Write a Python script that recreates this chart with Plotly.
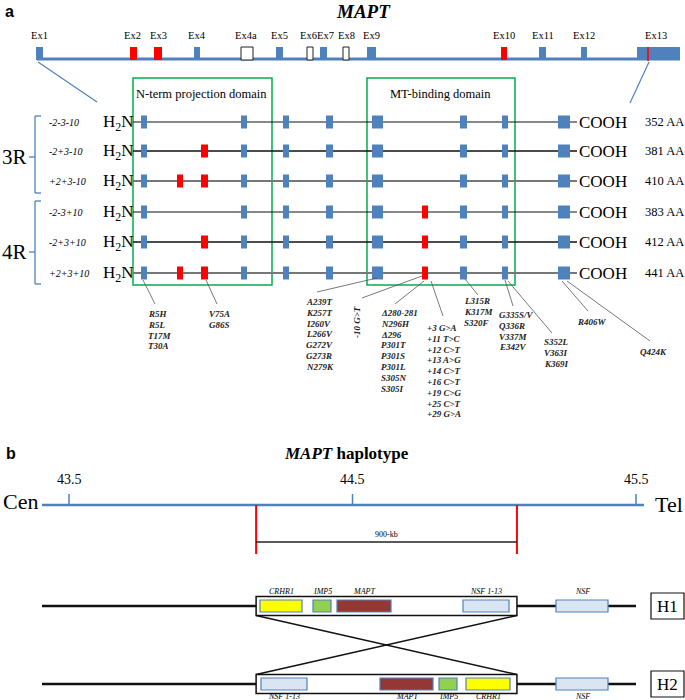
import plotly.graph_objects as go

SERIF = "Liberation Serif"
SANS = "Liberation Sans"
BLUE = "#4f81bd"
RED = "#ff0000"
GREEN = "#00b050"

# ---- panel a: MAPT gene, exons ----
exon_names = ["Ex1", "Ex2", "Ex3", "Ex4", "Ex4a", "Ex5", "Ex6", "Ex7", "Ex8", "Ex9",
              "Ex10", "Ex11", "Ex12", "Ex13"]
exon_type = ["const", "alt", "alt", "const", "open", "const", "open", "const", "open",
             "const", "alt", "const", "const", "const"]
exon_start = [36, 130, 154, 194, 241, 276, 307, 320, 343, 367, 501, 539, 581, 637]
exon_end = [43, 137, 162, 200, 253, 283, 313, 327, 349, 376, 507, 546, 587, 680]
exon_label_x = [39, 132, 158, 197, 246, 279, 308, 325, 346, 371, 504, 543, 584, 656]

# ---- tau isoforms ----
isoform_names = ["-2-3-10", "-2+3-10", "+2+3-10", "-2-3+10", "-2+3+10", "+2+3+10"]
isoform_len = ["352 AA", "381 AA", "410 AA", "383 AA", "412 AA", "441 AA"]
has_ex2 = [False, False, True, False, False, True]
has_ex3 = [False, True, True, False, True, True]
has_ex10 = [False, False, False, True, True, True]
isoform_y = [122, 151, 181, 212, 242, 273]
isoform_line = ["#111111", "#111111", "#777777", "#111111", "#111111", "#777777"]
isoform_width = [1.2, 1.6, 2.2, 1.0, 1.6, 2.2]

block_start = [141, 241, 283, 326, 372, 460, 502, 558]
block_end = [147, 247, 289, 333, 383, 467, 508, 570]
ex2_block = (177, 183)
ex3_block = (201, 208)
ex10_block = (422, 428)

# ---- mutations ----
mut_labels = [
    ["R5H", "R5L", "T17M", "T30A"],
    ["V75A", "G86S"],
    ["A239T", "K257T", "I260V", "L266V", "G272V", "G273R", "N279K"],
    ["Δ280-281", "N296H", "Δ296", "P301T", "P301S", "P301L", "S305N", "S305I"],
    ["+3 G>A", "+11 T>C", "+12 C>T", "+13 A>G", "+14 C>T", "+16 C>T", "+19 C>G",
     "+25 C>T", "+29 G>A"],
    ["L315R", "K317M", "S320F"],
    ["G335S/V", "Q336R", "V337M", "E342V"],
    ["S352L", "V363I", "K369I"],
    ["R406W"],
    ["Q424K"],
]
mut_text_x = [146, 207, 304, 379, 425, 462, 497, 542, 575, 638]
mut_text_y = [314, 314, 302, 313, 328, 301, 315, 342, 322, 352]
lead_from = [(143, 280), (206, 280), (377, 278), (424, 281), (431, 281), (465, 279),
             (505, 280), (508, 281), (562, 281), (567, 281)]
lead_to = [(155, 304), (217, 304), (317, 292), (395, 304), (443, 316), (478, 295),
           (513, 306), (552, 333), (588, 311), (650, 341)]
splice_label = "-10 G>T"

# ---- panel b: haplotype ----
scale_ticks = [43.5, 44.5, 45.5]
breakpoints = [44.16, 45.08]
inversion_label = "900-kb"
h1_genes = ["CRHR1", "IMP5", "MAPT", "NSF 1-13", "NSF"]
h1_start = [260, 313, 337, 463, 556]
h1_end = [302, 331, 391, 509, 608]
h2_genes = ["NSF 1-13", "MAPT", "IMP5", "CRHR1", "NSF"]
h2_start = [261, 380, 439, 466, 556]
h2_end = [307, 433, 457, 510, 608]
gene_color = {"CRHR1": "#ffff00", "IMP5": "#92d050", "MAPT": "#953735",
              "NSF 1-13": "#dbe5f1", "NSF": "#dbe5f1"}

fig = go.Figure(go.Scatter(x=[], y=[], hoverinfo="skip", showlegend=False))


def seg(x0, y0, x1, y1, color, width):
    fig.add_shape(type="line", x0=x0, y0=y0, x1=x1, y1=y1,
                  line=dict(color=color, width=width))


def rect(x0, y0, x1, y1, fill, line_color=None, lw=0):
    fig.add_shape(type="rect", x0=x0, y0=y0, x1=x1, y1=y1, fillcolor=fill,
                  line=dict(color=line_color or fill, width=lw))


def txt(x, y, text, size, family=SERIF, xanchor="center", angle=0, color="black"):
    fig.add_annotation(x=x, y=y, text=text, showarrow=False, xanchor=xanchor,
                       yanchor="middle", textangle=angle,
                       font=dict(family=family, size=size, color=color))


# panel a header
txt(9, 11, "<b>a</b>", 16, family=SANS)
txt(363, 11, "<b><i>MAPT</i></b>", 19)

# gene line and exons
seg(37, 59, 680, 59, BLUE, 3)
for name, kind, x0, x1, lx in zip(exon_names, exon_type, exon_start, exon_end, exon_label_x):
    if kind == "open":
        rect(x0, 47, x1, 60, "white", "#222222", 1)
    else:
        rect(x0, 47, x1, 60, RED if kind == "alt" else BLUE)
    txt(lx, 35, name, 10.5)
seg(648, 47, 648, 61, RED, 1.6)

# zoom lines to protein
seg(38, 62, 97, 102, BLUE, 1.2)
seg(649, 62, 630, 103, BLUE, 1.2)

# domain boxes
fig.add_shape(type="rect", x0=133, y0=78, x1=272, y1=285, line=dict(color=GREEN, width=1.5))
fig.add_shape(type="rect", x0=367, y0=78, x1=515, y1=285, line=dict(color=GREEN, width=1.5))
txt(201, 94, "N-term projection domain", 12.5)
txt(440, 94, "MT-binding domain", 12.5)

# isoforms
for i, y in enumerate(isoform_y):
    seg(133, y, 577, y, isoform_line[i], isoform_width[i])
    for x0, x1 in zip(block_start, block_end):
        rect(x0, y - 6.5, x1, y + 6.5, BLUE)
    for flag, blk in ((has_ex2[i], ex2_block), (has_ex3[i], ex3_block), (has_ex10[i], ex10_block)):
        if flag:
            rect(blk[0], y - 6.5, blk[1], y + 6.5, RED)
    txt(47, y, "<i>" + isoform_names[i] + "</i>", 10, xanchor="left")
    txt(118, y + 1, "H<sub>2</sub>N", 17)
    txt(603, y, "COOH", 17)
    txt(664, y, isoform_len[i], 12.5)

# 3R / 4R braces
for label, top, bot, mid in (("3R", 116, 193, 157), ("4R", 201, 284, 252)):
    seg(35, top, 35, bot, BLUE, 1.3)
    seg(35, top, 41, top, BLUE, 1.3)
    seg(35, bot, 41, bot, BLUE, 1.3)
    seg(29, mid, 35, mid, BLUE, 1.3)
    txt(14, mid, label, 21)

# mutations
for (fx, fy), (tx, ty) in zip(lead_from, lead_to):
    seg(fx, fy, tx, ty, "#555555", 0.8)
seg(422, 276, 362, 298, "#555555", 0.8)
for labels, x, y0 in zip(mut_labels, mut_text_x, mut_text_y):
    for k, lab in enumerate(labels):
        txt(x, y0 + k * 10.8, "<b><i>" + lab.replace(">", "&gt;") + "</i></b>", 9,
            xanchor="left", color="#222222")
txt(357, 322, "<b><i>" + splice_label.replace(">", "&gt;") + "</i></b>", 9, angle=-90,
    color="#222222")

# ---- panel b ----
def mb_px(v):
    return 69 + (v - 43.5) * 283.5


txt(11, 453, "<b>b</b>", 16, family=SANS)
txt(346, 453, "<b><i>MAPT</i> haplotype</b>", 17)
seg(42, 505, 644, 505, BLUE, 2.5)
for v in scale_ticks:
    seg(mb_px(v), 494, mb_px(v), 505, BLUE, 1.5)
    txt(mb_px(v), 479, str(v), 14)
txt(20, 501, "Cen", 22)
txt(669, 504, "Tel", 22)
for v in breakpoints:
    seg(mb_px(v), 505, mb_px(v), 554, RED, 2)
seg(mb_px(breakpoints[0]), 542, mb_px(breakpoints[1]), 542, "#222222", 1.5)
txt((mb_px(breakpoints[0]) + mb_px(breakpoints[1])) / 2, 534, inversion_label, 8)

bx0, bx1 = mb_px(breakpoints[0]), mb_px(breakpoints[1])
for hy, genes, starts, ends, name, lab_dy in ((606, h1_genes, h1_start, h1_end, "H1", -15),
                                               (684, h2_genes, h2_start, h2_end, "H2", 12)):
    seg(42, hy, 636, hy, "#111111", 2.5)
    rect(bx0, hy - 9.5, bx1, hy + 9.5, "white", "#111111", 1.5)
    for g, x0, x1 in zip(genes, starts, ends):
        rect(x0, hy - 6, x1, hy + 6, gene_color[g], BLUE, 1.2)
        txt((x0 + x1) / 2, hy + lab_dy, "<i>" + g + "</i>", 8)
    rect(651, hy - 13, 684, hy + 13, "white", "#111111", 1.2)
    txt(667.5, hy, name, 17)
seg(bx0, 615.5, bx1, 674.5, "#111111", 1.5)
seg(bx1, 615.5, bx0, 674.5, "#111111", 1.5)

fig.update_xaxes(range=[0, 685], visible=False, fixedrange=True)
fig.update_yaxes(range=[700, 0], visible=False, fixedrange=True)
fig.update_layout(width=685, height=700, margin=dict(l=0, r=0, t=0, b=0),
                  plot_bgcolor="white", paper_bgcolor="white", showlegend=False)
# drop the default 8px page margin so the figure sits at the window's corner
fig.write_html("out.html", config={"displayModeBar": False},
               post_script="document.body.style.margin='0';document.body.style.overflow='hidden';")
